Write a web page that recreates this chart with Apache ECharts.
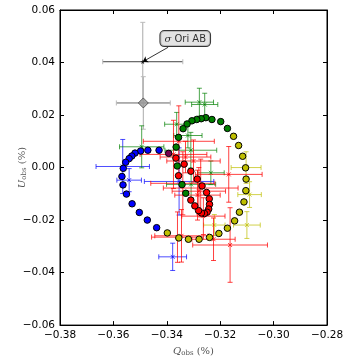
<!DOCTYPE html>
<html>
<head>
<meta charset="utf-8">
<script src="https://cdn.jsdelivr.net/npm/echarts/dist/echarts.min.js"></script>
<style>
html,body{margin:0;padding:0;background:#fff}
#main{width:349px;height:362px}
</style>
</head>
<body>
<div id="main"></div>
<script>
// model curve (Q, U) in %
var blueDots = [[-0.3429,0.0066],[-0.3471,0.0066],[-0.3498,0.0063],[-0.3519,0.0055],[-0.3531,0.0044],[-0.3541,0.0034],[-0.3554,0.0020],[-0.3563,-0.0003],[-0.3568,-0.0034],[-0.3564,-0.0066],[-0.3551,-0.0101],[-0.3530,-0.0138],[-0.3503,-0.0171],[-0.3473,-0.0200],[-0.3438,-0.0229]]
var yellowDots = [[-0.3398,-0.0249],[-0.3355,-0.0268],[-0.3319,-0.0273],[-0.3279,-0.0273],[-0.3240,-0.0266],[-0.3205,-0.0251],[-0.3173,-0.0231],[-0.3146,-0.0203],[-0.3128,-0.0170],[-0.3111,-0.0131],[-0.3104,-0.0088],[-0.3103,-0.0044],[-0.3105,-0.0001],[-0.3116,0.0043],[-0.3131,0.0084],[-0.3150,0.0119]]
var greenDots = [[-0.3173,0.0149],[-0.3198,0.0175],[-0.3231,0.0183],[-0.3254,0.0190],[-0.3271,0.0186],[-0.3288,0.0183],[-0.3306,0.0178],[-0.3324,0.0166],[-0.3339,0.0148],[-0.3356,0.0115],[-0.3365,0.0078],[-0.3361,0.0006],[-0.3343,-0.0065],[-0.3329,-0.0098]]
var redDots = [[-0.3366,0.0036],[-0.3335,0.0013],[-0.3356,-0.0031],[-0.3310,-0.0014],[-0.3286,-0.0044],[-0.3268,-0.0070],[-0.3251,-0.0095],[-0.3241,-0.0119],[-0.3240,-0.0140],[-0.3243,-0.0158],[-0.3249,-0.0170],[-0.3259,-0.0175],[-0.3270,-0.0173],[-0.3281,-0.0164],[-0.3295,-0.0146],[-0.3310,-0.0124]]
var purpleDots = [[-0.3393,0.0054]]

// observations [Q, U, dQ, dU]
var blueObs = [[-0.3565,0.0004,0.0100,0.0103],[-0.3541,-0.0048,0.0046,0.0044],[-0.3354,-0.0053,0.0130,0.0128],[-0.3378,-0.0340,0.0052,0.0052]]
var greenObs = [[-0.3494,0.0079,0.0083,0.0080],[-0.3278,0.0249,0.0053,0.0053],[-0.3258,0.0240,0.0049,0.0043],[-0.3363,0.0165,0.0045,0.0045],[-0.3321,0.0122,0.0053,0.0047],[-0.3310,0.0066,0.0097,0.0068],[-0.3235,-0.0020,0.0050,0.0045],[-0.3309,-0.0064,0.0092,0.0053]]
var yellowObs = [[-0.3103,0.0000,0.0056,0.0060],[-0.3090,-0.0103,0.0044,0.0049],[-0.3100,-0.0219,0.0050,0.0051],[-0.3222,-0.0219,0.0040,0.0040]]
var redObs = [[-0.3168,-0.0026,0.0125,0.0106],[-0.3273,-0.0078,0.0140,0.0110],[-0.3263,-0.0185,0.0081,0.0070],[-0.3360,-0.0265,0.0097,0.0096],[-0.3225,-0.0273,0.0081,0.0081],[-0.3163,-0.0295,0.0140,0.0142],[-0.3355,0.0100,0.0133,0.0135],[-0.3375,0.0050,0.0125,0.0130],[-0.3330,0.0040,0.0095,0.0060],[-0.3300,0.0025,0.0100,0.0080],[-0.3280,-0.0090,0.0100,0.0090],[-0.3285,-0.0105,0.0085,0.0095],[-0.3345,-0.0260,0.0100,0.0100],[-0.3340,-0.0060,0.0120,0.0120]]
var sigmaOri = [[-0.3490,0.0403,0.0150,0.0150]]
var isPol = [[-0.3488,0.0246,0.0101,0.0100]]
var annotPos = [-0.3331,0.0491]
var arrowFrom = [-0.3395,0.0458]

function fmt(v){
	var s = Math.abs(v).toFixed(2)
	return v < -1e-9 ? '\u2212' + s : s
}

// error bars with caps and a small x marker
function errBars(colH, colV, colCap, op, mark){
	return function(params, api){
		var q = api.value(0), u = api.value(1), dq = api.value(2), du = api.value(3)
		var c = api.coord([q,u])
		var l = api.coord([q-dq,u]), r = api.coord([q+dq,u])
		var t = api.coord([q,u+du]), b = api.coord([q,u-du])
		var k = 2.5
		function ln(x1,y1,x2,y2,col){
			return {type:'line', shape:{x1:x1,y1:y1,x2:x2,y2:y2}, style:{stroke:col, lineWidth:1, opacity:op}}
		}
		var ch = [
			ln(l[0],l[1],r[0],r[1],colH),
			ln(t[0],t[1],b[0],b[1],colV),
			ln(l[0],l[1]-k,l[0],l[1]+k,colCap),
			ln(r[0],r[1]-k,r[0],r[1]+k,colCap),
			ln(t[0]-k,t[1],t[0]+k,t[1],colCap),
			ln(b[0]-k,b[1],b[0]+k,b[1],colCap)
		]
		if(mark){
			ch.push(ln(c[0]-2,c[1]-2,c[0]+2,c[1]+2,colH))
			ch.push(ln(c[0]-2,c[1]+2,c[0]+2,c[1]-2,colH))
		}
		return {type:'group', children:ch}
	}
}

function obsSeries(data, col, op){
	return {type:'custom', data:data, encode:{x:0,y:1}, z:3, silent:true,
		renderItem: errBars(col, col, col, op, true)}
}

function dotSeries(data, col){
	return {type:'scatter', data:data, symbolSize:6.5, z:5, silent:true,
		itemStyle:{color:col, borderColor:'#000', borderWidth:1, opacity:1}}
}

var nameRich = {
	i:{fontStyle:'italic', fontFamily:'DejaVu Serif', fontSize:10, color:'#555'},
	s:{fontSize:7, fontFamily:'DejaVu Serif', color:'#555', padding:[5,0,0,0]}
}

var chart = echarts.init(document.getElementById('main'))

var starPath = 'path://M50,0 L61,35 L98,35 L68,57 L79,91 L50,70 L21,91 L32,57 L2,35 L39,35 Z'

chart.setOption({
	animation:false,
	textStyle:{fontFamily:'DejaVu Sans'},
	grid:{left:60, right:22, top:10, bottom:32, show:true, borderColor:'#000', borderWidth:1},
	xAxis:[{
		type:'value', min:-0.38, max:-0.28, interval:0.02,
		axisLine:{show:true, onZero:false, lineStyle:{color:'#000'}},
		axisTick:{inside:true, length:4, lineStyle:{color:'#000'}},
		axisLabel:{formatter:fmt, color:'#000', fontSize:10.5, margin:5},
		splitLine:{show:false},
		name:'{i|Q}{s|obs} (%)', nameLocation:'middle', nameGap:15,
		nameTextStyle:{fontFamily:'DejaVu Serif', fontSize:10, color:'#555', rich:nameRich}
	},{
		type:'value', position:'top', min:-0.38, max:-0.28, interval:0.02,
		axisLine:{show:true, onZero:false, lineStyle:{color:'#000'}},
		axisTick:{inside:true, length:4, lineStyle:{color:'#000'}},
		axisLabel:{show:false}, splitLine:{show:false}
	}],
	yAxis:[{
		type:'value', min:-0.06, max:0.06, interval:0.02,
		axisLine:{show:true, onZero:false, lineStyle:{color:'#000'}},
		axisTick:{inside:true, length:4, lineStyle:{color:'#000'}},
		axisLabel:{formatter:fmt, color:'#000', fontSize:10.5, margin:5},
		splitLine:{show:false},
		name:'{i|U}{s|obs} (%)', nameLocation:'middle', nameGap:32, nameMoveOverlap:false,
		nameTextStyle:{fontFamily:'DejaVu Serif', fontSize:10, color:'#555', rich:nameRich}
	},{
		type:'value', position:'right', min:-0.06, max:0.06, interval:0.02,
		axisLine:{show:true, onZero:false, lineStyle:{color:'#000'}},
		axisTick:{inside:true, length:4, lineStyle:{color:'#000'}},
		axisLabel:{show:false}, splitLine:{show:false}
	}],
	series:[
		{type:'custom', data:sigmaOri, encode:{x:0,y:1}, z:3, silent:true,
			renderItem: errBars('#444', '#aaa', '#bbb', 1, false)},
		{type:'custom', data:isPol, encode:{x:0,y:1}, z:3, silent:true,
			renderItem: errBars('#666', '#aaa', '#bbb', 1, false)},
		dotSeries(blueDots, '#0000ff'),
		dotSeries(yellowDots, '#bfbf00'),
		dotSeries(greenDots, '#008000'),
		dotSeries(redDots, '#ff0000'),
		dotSeries(purpleDots, '#7a0050'),
		obsSeries(blueObs, '#0000ff', 0.7),
		obsSeries(greenObs, '#008000', 0.7),
		obsSeries(yellowObs, '#bfbf00', 0.7),
		obsSeries(redObs, '#ff0000', 0.75),
		{type:'scatter', data:isPol, symbol:'diamond', symbolSize:10, z:6, silent:true,
			itemStyle:{color:'#999', borderColor:'#444', borderWidth:1}},
		{type:'scatter', data:sigmaOri, symbol:starPath, symbolSize:5, z:6, silent:true,
			itemStyle:{color:'#000'}},
		{type:'scatter', data:[annotPos], symbolSize:0, z:7, silent:true,
			label:{show:true, position:'inside', formatter:'{g|\u03c3} Ori AB', fontSize:10, color:'#000',
				fontFamily:'DejaVu Sans',
				backgroundColor:'#dcdcdc', borderColor:'#000', borderWidth:1, borderRadius:4, padding:[3,4,2,4],
				rich:{g:{fontStyle:'italic', fontFamily:'DejaVu Serif', fontSize:10, color:'#000'}}},
			markLine:{silent:true, symbol:['none','arrow'], symbolSize:5, label:{show:false},
				lineStyle:{color:'#000', width:0.8, type:'solid'},
				data:[[{coord:arrowFrom},{coord:[sigmaOri[0][0],sigmaOri[0][1]]}]]}}
	]
})
</script>
</body>
</html>
